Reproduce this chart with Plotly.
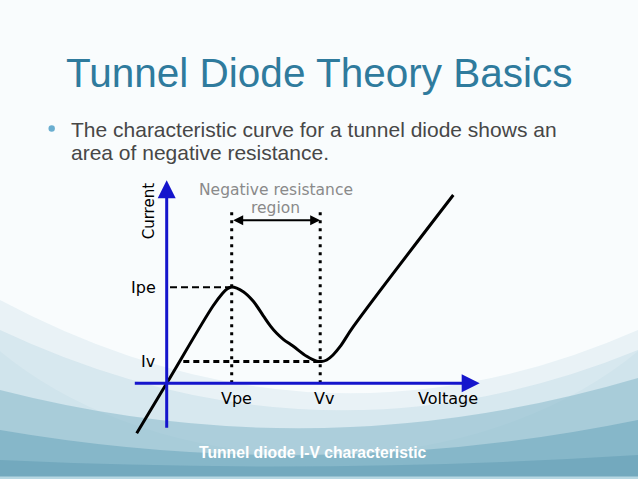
import plotly.graph_objects as go

# ---- data (arbitrary units) ----
curve_v = [-3.0, 0.0, 4.63, 5.53, 6.03, 6.5, 7.66, 8.66, 9.66, 10.4, 11.0, 11.66,
           12.66, 14.0, 15.0, 15.5, 16.0, 16.63, 17.33, 18.66, 28.66]
curve_i = [-5.0, 0.0, 7.73, 8.93, 9.43, 9.63, 9.16, 8.2, 6.75, 5.7, 5.0, 4.4,
           3.7, 2.7, 2.22, 2.18, 2.33, 2.83, 3.66, 5.66, 18.83]
V_pe, V_v = 6.5, 15.35
I_pe, I_v = 9.6, 2.18
v_labels = ["Vpe", "Vv", "Voltage"]
i_labels = ["Ipe", "Iv", "Current"]
title_text = "Tunnel Diode Theory Basics"
bullet_lines = ["The characteristic curve for a tunnel diode shows an",
                "area of negative resistance."]
caption = "Tunnel diode I-V characteristic"
region_lines = ["Negative resistance", "region"]

W, H = 638, 479

def px(x, y):
    """pixel -> paper coords (margins are zero)"""
    return x / W, 1 - y / H

fig = go.Figure()

# main curve
fig.add_trace(go.Scatter(x=curve_v, y=curve_i, mode="lines",
                         line=dict(color="black", width=3, shape="spline", smoothing=1.0),
                         hoverinfo="skip", showlegend=False))
# reference lines
fig.add_trace(go.Scatter(x=[0.33, V_pe], y=[I_pe, I_pe], mode="lines",
                         line=dict(color="black", width=2, dash="7px,4px"), showlegend=False))
fig.add_trace(go.Scatter(x=[1.66, V_v], y=[I_v, I_v], mode="lines",
                         line=dict(color="black", width=3, dash="6px,4px"), showlegend=False))
fig.add_trace(go.Scatter(x=[V_pe, V_pe], y=[0, 17.3], mode="lines",
                         line=dict(color="black", width=3, dash="3px,5px"), showlegend=False))
fig.add_trace(go.Scatter(x=[V_v, V_v], y=[0, 17.3], mode="lines",
                         line=dict(color="black", width=3, dash="3px,5px"), showlegend=False))

def P(x, y):
    return f"{x / W:.5f},{1 - y / H:.5f}"

shapes = []
shapes.append(dict(type="circle", xref="paper", yref="paper", layer="below",
                   x0=-0.15, x1=1.15, y0=0.05, y1=1.25,
                   fillcolor="#f9fcfd", line=dict(width=0)))
layers = [
    ((0, 300), (320, 470), (638, 330), "rgba(150,195,212,0.16)"),
    ((0, 330), (320, 480), (638, 350), "rgba(150,195,212,0.22)"),
    ((0, 390), (320, 472), (638, 378), "rgba(120,175,196,0.45)"),
    ((0, 430), (320, 485), (638, 420), "rgba(100,162,185,0.50)"),
    ((0, 460), (320, 475), (638, 455), "rgba(95,155,180,0.50)"),
]
for p0, c, p1, col in layers:
    pth = (f"M{P(*p0)} Q{P(*c)} {P(*p1)} L{P(638, 479)} L{P(0, 479)} Z")
    shapes.append(dict(type="path", xref="paper", yref="paper", layer="below",
                       path=pth, fillcolor=col, line=dict(width=0)))
x0, y0 = px(0, 476.5)
x1, y1 = px(638, 479)
shapes.append(dict(type="rect", xref="paper", yref="paper", layer="below",
                   x0=x0, x1=x1, y0=y1, y1=y0, fillcolor="rgba(190,220,230,0.9)",
                   line=dict(width=0)))
# bullet dot
bx, by = px(51.7, 128.5)
shapes.append(dict(type="circle", xref="paper", yref="paper",
                   x0=bx - 3.2 / W, x1=bx + 3.2 / W, y0=by - 3.2 / H, y1=by + 3.2 / H,
                   fillcolor="#6aaed0", line=dict(width=0)))

ann = []
blue = "#1515cc"
# axes with arrows
ann.append(dict(x=31.3, y=0, ax=-3.34, ay=0, xref="x", yref="y", axref="x", ayref="y",
                showarrow=True, arrowhead=2, arrowsize=1.2, arrowwidth=3, arrowcolor=blue, text=""))
ann.append(dict(x=0, y=20.3, ax=0, ay=-4.6, xref="x", yref="y", axref="x", ayref="y",
                showarrow=True, arrowhead=2, arrowsize=1.2, arrowwidth=3, arrowcolor=blue, text=""))
# negative resistance double arrow
ann.append(dict(x=V_v, y=16.3, ax=V_pe, ay=16.3, xref="x", yref="y", axref="x", ayref="y",
                showarrow=True, arrowhead=2, startarrowhead=2, arrowside="end+start",
                arrowsize=1, startarrowsize=1, arrowwidth=2, arrowcolor="black", text=""))

lab_font = dict(family="DejaVu Sans", size=16, color="black")
ann.append(dict(x=-0.87, y=I_pe, text=i_labels[0], xanchor="right", yanchor="middle",
                showarrow=False, font=lab_font))
ann.append(dict(x=-0.97, y=I_v, text=i_labels[1], xanchor="right", yanchor="middle",
                showarrow=False, font=lab_font))
ann.append(dict(x=-1.77, y=17.2, text=i_labels[2], textangle=-90, xanchor="center",
                yanchor="middle", showarrow=False, font=dict(family="DejaVu Sans", size=15, color="black")))
ann.append(dict(x=7.0, y=-1.5, text=v_labels[0], xanchor="center", yanchor="middle",
                showarrow=False, font=lab_font))
ann.append(dict(x=15.7, y=-1.5, text=v_labels[1], xanchor="center", yanchor="middle",
                showarrow=False, font=lab_font))
ann.append(dict(x=28.1, y=-1.5, text=v_labels[2], xanchor="center", yanchor="middle",
                showarrow=False, font=lab_font))
gray_font = dict(family="DejaVu Sans", size=15.5, color="#8a8a8a")
ann.append(dict(x=10.9, y=19.3, text=region_lines[0], xanchor="center", yanchor="middle",
                showarrow=False, font=gray_font))
ann.append(dict(x=10.9, y=17.5, text=region_lines[1], xanchor="center", yanchor="middle",
                showarrow=False, font=gray_font))

# slide texts (paper coords from pixels)
tx, ty = px(64, 73)
ann.append(dict(x=tx, y=ty, xref="paper", yref="paper", text=title_text, xanchor="left",
                yanchor="middle", showarrow=False,
                font=dict(family="Liberation Sans", size=40.5, color="#2f7b9d")))
for i, line in enumerate(bullet_lines):
    lx, ly = px(69, 129 + 23.5 * i)
    ann.append(dict(x=lx, y=ly, xref="paper", yref="paper", text=line, xanchor="left",
                    yanchor="middle", showarrow=False,
                    font=dict(family="Liberation Sans", size=21, color="#474747")))
cx, cy = px(312.5, 452)
ann.append(dict(x=cx, y=cy, xref="paper", yref="paper", text="<b>" + caption + "</b>",
                xanchor="center", yanchor="middle", showarrow=False,
                font=dict(family="Liberation Sans", size=15.7, color="white")))

fig.update_layout(
    width=W, height=H, margin=dict(l=0, r=0, t=0, b=0),
    paper_bgcolor="#eff6f9", plot_bgcolor="rgba(0,0,0,0)",
    xaxis=dict(range=[-16.67, 47.13], visible=False, fixedrange=True),
    yaxis=dict(range=[-9.57, 38.33], visible=False, fixedrange=True),
    shapes=shapes, annotations=ann, showlegend=False,
)
fig.write_html("out.html", config={"displayModeBar": False},
               post_script="document.body.style.margin='0';document.body.style.overflow='hidden';")
